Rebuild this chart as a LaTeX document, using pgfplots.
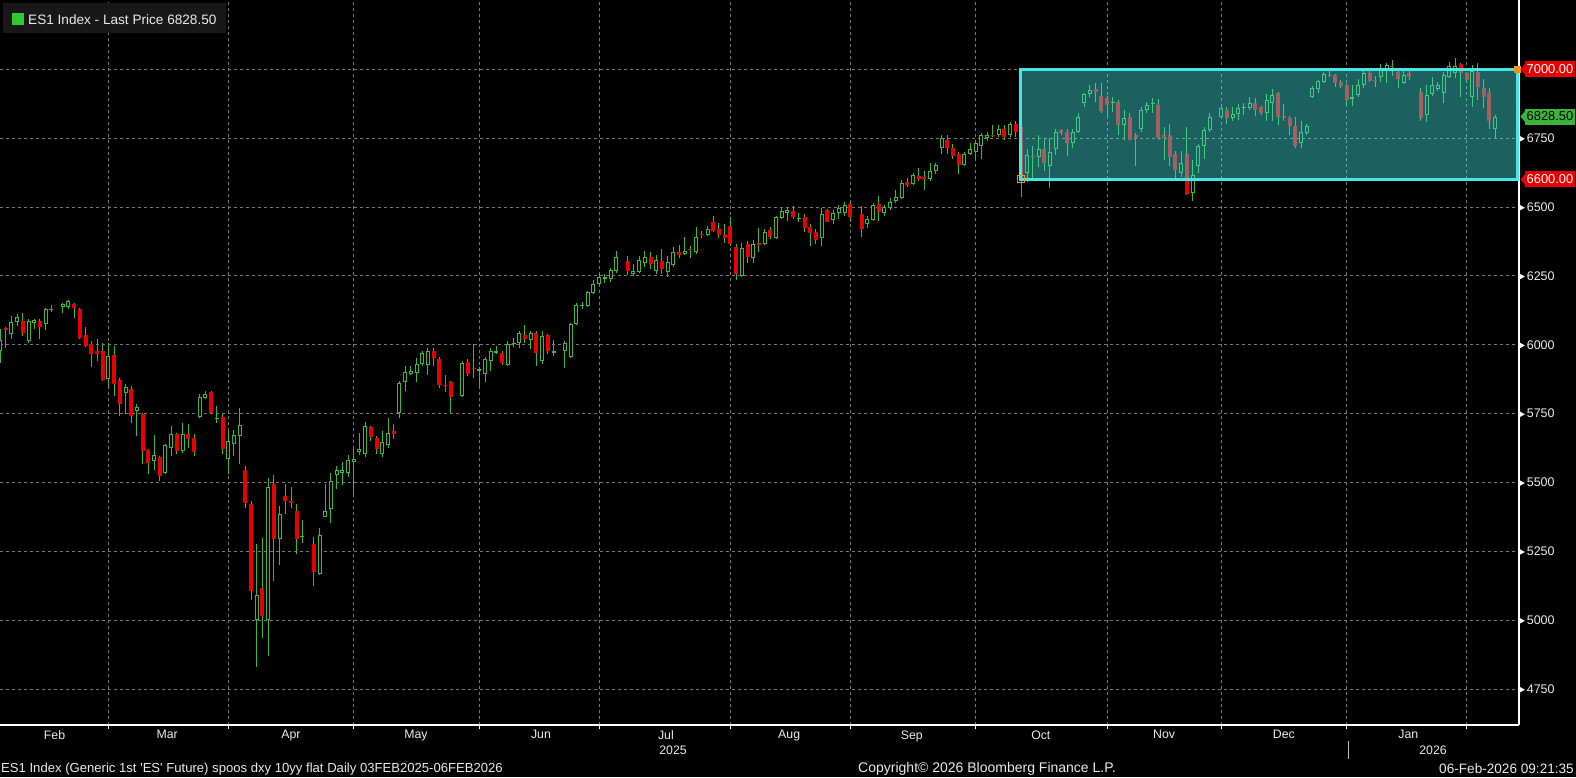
\documentclass[border=0pt]{standalone}
\usepackage{fontspec}
\setmainfont{Liberation Sans}
\usepackage{pgfplots}
\usepackage{pgfplotstable}
\pgfplotsset{compat=1.18}
\definecolor{cgreen}{RGB}{60,185,60}
\definecolor{cred}{RGB}{230,0,0}
\definecolor{boxcyan}{RGB}{70,230,230}
\definecolor{gridgray}{RGB}{120,120,120}
\definecolor{legbg}{RGB}{24,24,24}
\definecolor{lgreen}{RGB}{50,200,50}
\definecolor{lblgreen}{RGB}{60,180,60}
\definecolor{handle}{RGB}{230,150,30}
\definecolor{txt}{RGB}{235,235,235}
\newcommand{\ylab}[1]{\tikz[baseline=-0.55ex]{\fill[white] (0pt,-2.6pt)--(0pt,2.6pt)--(4.6pt,0pt)--cycle;}\hspace{2pt}#1}

\pgfplotstableread{
x o h l c
0 5977 6057 5933 6017
2 6039 6104 6021 6083
3 6083 6112 6068 6101
5 6013 6093 6006 6086
6 6079 6093 6057 6090
8 6075 6134 6053 6130
9 6125 6145 6119 6128
11 6137 6152 6115 6148
12 6137 6163 6130 6159
19 5875 6006 5842 5959
22 5824 5857 5748 5846
24 5758 5784 5667 5773
27 5577 5671 5547 5599
29 5533 5638 5529 5635
30 5624 5704 5595 5675
32 5613 5715 5606 5675
35 5737 5820 5733 5809
36 5806 5831 5802 5820
38 5731 5777 5715 5735
40 5584 5686 5529 5649
41 5638 5689 5595 5671
42 5667 5769 5566 5707
45 5001 5278 4830 5092
47 5001 5515 4870 5485
49 5293 5413 5201 5384
53 5303 5365 5281 5307
56 5169 5333 5165 5311
57 5376 5496 5373 5398
58 5405 5536 5351 5507
59 5526 5558 5478 5544
60 5536 5573 5489 5547
61 5536 5598 5518 5580
62 5576 5620 5449 5584
63 5609 5678 5598 5620
64 5602 5718 5591 5704
67 5602 5686 5591 5646
68 5635 5733 5624 5678
70 5751 5868 5733 5860
71 5864 5922 5831 5900
72 5893 5922 5890 5904
73 5897 5951 5864 5930
74 5930 5977 5922 5970
75 5926 5988 5890 5977
81 5813 5941 5810 5933
84 5904 5919 5846 5911
85 5893 5955 5864 5948
86 5941 5988 5904 5977
87 5970 5995 5966 5977
89 5926 6013 5922 6003
90 6003 6024 5992 6006
91 6006 6050 5988 6043
93 6017 6050 5984 6043
95 5941 6050 5930 6032
97 5970 6017 5959 5977
99 5977 6013 5915 6006
100 5955 6079 5951 6075
101 6075 6152 6070 6145
102 6141 6155 6130 6145
103 6141 6195 6137 6192
104 6188 6235 6184 6221
105 6221 6257 6217 6246
106 6240 6257 6224 6246
107 6239 6279 6228 6272
108 6268 6341 6261 6319
111 6257 6294 6250 6268
112 6265 6323 6261 6308
113 6297 6341 6283 6319
115 6268 6326 6257 6308
117 6265 6323 6246 6301
118 6290 6355 6283 6337
120 6330 6392 6326 6341
122 6337 6428 6330 6392
124 6399 6432 6396 6421
130 6250 6370 6246 6352
132 6315 6381 6297 6366
134 6366 6421 6362 6410
136 6388 6468 6385 6465
137 6461 6498 6457 6487
138 6479 6498 6450 6490
140 6458 6479 6447 6461
144 6388 6498 6359 6476
146 6454 6490 6439 6479
147 6479 6508 6457 6498
148 6479 6519 6468 6508
152 6439 6468 6425 6457
153 6454 6515 6450 6508
155 6479 6508 6468 6501
156 6497 6534 6490 6519
157 6523 6563 6516 6537
158 6534 6599 6530 6588
160 6585 6625 6581 6618
163 6600 6661 6596 6632
164 6632 6661 6621 6654
165 6713 6760 6694 6749
169 6654 6701 6650 6694
170 6694 6731 6690 6709
171 6701 6742 6676 6734
172 6720 6767 6676 6760
173 6749 6771 6738 6763
175 6760 6796 6756 6785
177 6760 6807 6753 6800
180 6625 6709 6592 6690
182 6680 6763 6647 6712
184 6650 6749 6570 6698
185 6712 6782 6690 6771
188 6731 6782 6716 6771
189 6771 6840 6767 6825
190 6876 6913 6862 6909
191 6909 6942 6898 6924
195 6876 6898 6844 6880
197 6796 6854 6742 6822
200 6785 6862 6771 6854
201 6854 6880 6840 6869
202 6874 6894 6843 6877
207 6625 6705 6610 6658
209 6552 6672 6523 6618
210 6650 6727 6625 6720
211 6720 6789 6676 6778
212 6778 6843 6771 6825
214 6825 6862 6822 6858
216 6822 6862 6811 6836
217 6836 6873 6815 6858
218 6860 6876 6833 6863
219 6858 6898 6851 6876
222 6840 6909 6814 6887
223 6876 6927 6814 6905
228 6731 6814 6716 6774
229 6767 6800 6760 6793
230 6898 6938 6894 6931
231 6927 6960 6913 6956
232 6953 6989 6949 6982
237 6893 6942 6866 6898
238 6905 6964 6898 6942
239 6942 6993 6931 6985
242 6971 7018 6953 6996
243 6996 7022 6949 7015
246 6949 7000 6945 6978
250 6833 6942 6807 6905
251 6909 6971 6902 6942
252 6927 6953 6920 6942
253 6913 6989 6876 6978
254 6971 7025 6967 7011
255 6985 7040 6967 7011
258 6898 7015 6862 6993
262 6782 6833 6749 6828.5
}\upc

\pgfplotstableread{
x o h l c
1 6062 6066 5988 6055
4 6086 6115 6032 6043
7 6086 6093 6021 6064
13 6148 6152 6097 6133
14 6130 6134 6021 6024
15 6035 6064 5990 5995
16 6003 6013 5919 5966
17 5977 6021 5941 5966
18 5977 6006 5868 5871
20 5962 5995 5813 5857
21 5871 5879 5740 5784
23 5839 5850 5715 5740
25 5748 5751 5566 5613
26 5617 5620 5529 5569
28 5591 5595 5507 5522
31 5675 5678 5602 5613
33 5675 5711 5624 5657
34 5660 5675 5595 5609
37 5828 5831 5748 5751
39 5737 5748 5602 5620
43 5547 5558 5409 5424
44 5420 5431 5074 5107
46 5118 5300 4936 5016
48 5493 5526 5143 5296
50 5449 5493 5387 5434
51 5431 5482 5409 5424
52 5398 5420 5241 5296
55 5278 5303 5125 5176
65 5700 5705 5649 5664
66 5660 5667 5602 5620
69 5686 5711 5657 5675
76 5977 5988 5922 5951
77 5948 5955 5842 5853
78 5855 5890 5828 5850
79 5864 5868 5751 5809
82 5937 5948 5886 5893
83 5917 6003 5879 5913
88 5970 5977 5926 5933
92 6035 6072 6006 6021
94 6043 6050 5922 5970
96 6035 6039 5966 5977
110 6305 6323 6254 6268
114 6319 6337 6276 6294
116 6305 6348 6257 6276
119 6337 6363 6315 6326
121 6348 6359 6315 6344
123 6401 6414 6388 6398
125 6446 6468 6410 6414
126 6421 6443 6388 6399
127 6399 6439 6370 6388
128 6432 6465 6359 6366
129 6355 6366 6235 6257
131 6366 6377 6297 6319
133 6368 6425 6337 6362
135 6418 6428 6385 6392
139 6487 6505 6457 6465
141 6465 6476 6410 6425
142 6428 6439 6359 6406
143 6410 6421 6366 6381
145 6490 6492 6446 6447
149 6512 6523 6447 6465
151 6476 6505 6392 6421
154 6512 6541 6450 6483
159 6592 6607 6574 6581
161 6614 6643 6596 6603
162 6610 6632 6563 6600
166 6745 6760 6694 6713
167 6716 6727 6676 6685
168 6694 6701 6621 6654
174 6762 6796 6753 6758
176 6785 6796 6745 6756
178 6800 6811 6756 6771
179 6790 6805 6538 6600
181 6687 6720 6600 6680
183 6712 6749 6632 6661
186 6778 6785 6760 6767
187 6774 6785 6687 6731
192 6927 6949 6880 6916
193 6902 6949 6840 6847
194 6894 6902 6829 6869
196 6880 6887 6760 6796
198 6825 6840 6742 6745
199 6760 6767 6650 6749
203 6869 6891 6745 6752
204 6760 6792 6669 6752
205 6760 6800 6650 6683
206 6694 6705 6596 6636
208 6694 6789 6545 6549
215 6851 6862 6800 6822
220 6876 6894 6829 6851
221 6862 6865 6833 6840
224 6913 6916 6796 6825
225 6829 6873 6814 6822
226 6822 6829 6760 6793
227 6793 6825 6716 6720
233 6978 6993 6971 6974
234 6978 6982 6935 6949
235 6953 6960 6931 6938
236 6942 6945 6869 6887
240 6985 6993 6953 6956
241 6962 6974 6935 6958
244 7011 7033 6975 7007
245 6989 6996 6931 6964
247 6985 7000 6960 6971
249 6916 6931 6814 6822
256 7018 7022 6898 6985
257 6985 6989 6951 6960
259 6989 7022 6887 6935
260 6931 6964 6858 6898
261 6913 6931 6782 6814
}\dnc

\pgfplotsset{
  nomark/.style={only marks, mark=*, mark size=0pt, mark options={draw=none, fill=none}},
}

\begin{document}
\begin{tikzpicture}
\useasboundingbox (0pt,-52pt) rectangle (1576pt,725pt);
\fill[black] (0pt,-52pt) rectangle (1576pt,725pt);
\begin{axis}[
  at={(0pt,0pt)}, anchor=south west,
  scale only axis, width=1519pt, height=725pt,
  xmin=0, xmax=266.2, ymin=4619.4, ymax=7251.6,
  axis x line*=bottom, axis y line*=right,
  axis line style={white, line width=1.6pt},
  xtick={9.55,29.3,51,72.9,94.8,116.7,138.3,159.8,182.4,204,225,246.8},
  xticklabels={Feb,Mar,Apr,May,Jun,Jul,Aug,Sep,Oct,Nov,Dec,Jan},
  minor xtick={19,40,62,84,105,128,149,171,194,214,236,257},
  major tick length=0pt, minor tick length=4pt, tick align=outside,
  minor tick style={draw=white, line width=1pt},
  xminorgrids=true, xmajorgrids=false, ymajorgrids=true,
  grid style={draw=gridgray, line width=1pt, dash pattern=on 3pt off 3pt},
  minor grid style={draw=gridgray, line width=1pt, dash pattern=on 3pt off 3pt},
  ytick={4750,5000,5250,5500,5750,6000,6250,6500,6750,7000},
  yticklabels={\ylab{4750},\ylab{5000},\ylab{5250},\ylab{5500},\ylab{5750},\ylab{6000},\ylab{6250},\ylab{6500},\ylab{6750},{}},
  xticklabel style={font=\fontsize{12.3}{14}\selectfont, text=txt, yshift=-2pt},
  yticklabel style={font=\fontsize{12.5}{14}\selectfont, text=txt, anchor=west, inner sep=0pt, xshift=1pt},
]
% wicks
\addplot[nomark, cgreen, error bars/.cd, y dir=plus, y explicit, error mark=none, error bar style={line width=1pt, cgreen}]
  table[x=x, y=l, y error plus expr={\thisrow{h}-\thisrow{l}}] {\upc};
\addplot[nomark, cgreen, error bars/.cd, y dir=plus, y explicit, error mark=none, error bar style={line width=1pt, cgreen}]
  table[x=x, y=l, y error plus expr={\thisrow{h}-\thisrow{l}}] {\dnc};
% down bodies
\addplot[nomark, cred, error bars/.cd, y dir=plus, y explicit, error mark=none, error bar style={line width=4pt, cred}]
  table[x=x, y=c, y error plus expr={max(\thisrow{o}-\thisrow{c},3.6)}] {\dnc};
% up bodies (hollow)
\addplot[nomark, cgreen, error bars/.cd, y dir=plus, y explicit, error mark=none, error bar style={line width=4pt, cgreen}]
  table[x=x, y=o, y error plus expr={max(\thisrow{c}-\thisrow{o},3.6)}] {\upc};
\addplot[nomark, black, error bars/.cd, y dir=plus, y explicit, error mark=none, error bar style={line width=2pt, black}]
  table[x=x, y expr={\thisrow{o}+3.63}, y error plus expr={max(\thisrow{c}-\thisrow{o}-7.26,0)}] {\upc};
% range box
\addplot[fill=boxcyan, fill opacity=0.42, draw=none] coordinates {(178.9,6600) (265.9,6600) (265.9,7000) (178.9,7000)} -- cycle;
\addplot[draw=boxcyan, line width=3pt, fill=none] coordinates {(178.9,6600) (265.9,6600) (265.9,7000) (178.9,7000)} -- cycle;
\addplot[only marks, mark=square*, mark size=3pt, color=handle] coordinates {(265.9,7000)};
\addplot[only marks, mark=square, mark size=3.5pt, mark options={draw=handle, line width=1pt}] coordinates {(178.9,6600)};
\coordinate (r7000) at (axis cs:266.2,7000);
\coordinate (rlast) at (axis cs:266.2,6828.5);
\coordinate (r6600) at (axis cs:266.2,6600);
\end{axis}
% right-side value labels
\fill[cred] ([xshift=1.5pt]r7000) -- ([xshift=6.5pt,yshift=6pt]r7000) -- ([xshift=6.5pt,yshift=-6pt]r7000) -- cycle;
\node[fill=cred, text=white, font=\fontsize{12.9}{15}\selectfont, inner xsep=1.5pt, inner ysep=0pt, minimum height=16pt, anchor=west] at ([xshift=6pt]r7000) {7000.00};
\fill[lblgreen] ([xshift=1.5pt]rlast) -- ([xshift=6.5pt,yshift=6pt]rlast) -- ([xshift=6.5pt,yshift=-6pt]rlast) -- cycle;
\node[fill=lblgreen, text=black, font=\fontsize{12.9}{15}\selectfont, inner xsep=1.5pt, inner ysep=0pt, minimum height=16pt, anchor=west] at ([xshift=6pt]rlast) {6828.50};
\fill[cred] ([xshift=1.5pt]r6600) -- ([xshift=6.5pt,yshift=6pt]r6600) -- ([xshift=6.5pt,yshift=-6pt]r6600) -- cycle;
\node[fill=cred, text=white, font=\fontsize{12.9}{15}\selectfont, inner xsep=1.5pt, inner ysep=0pt, minimum height=16pt, anchor=west] at ([xshift=6pt]r6600) {6600.00};
% legend
\fill[legbg] (3pt,692pt) rectangle (226pt,722pt);
\fill[lgreen] (12pt,700pt) rectangle (24pt,712pt);
\node[anchor=west, inner sep=0pt, text=txt, font=\fontsize{13.6}{16}\selectfont] at (28pt,705.5pt) {ES1 Index - Last Price 6828.50};
% years and footer
\node[text=txt, font=\fontsize{12.3}{14}\selectfont] at (673pt,-25pt) {2025};
\node[text=txt, font=\fontsize{12.3}{14}\selectfont] at (1433pt,-25pt) {2026};
\draw[white!75!black, line width=0.8pt] (1348pt,-16pt) -- (1348pt,-34pt);
\node[anchor=west, inner sep=0pt, text=txt, font=\fontsize{13.1}{15}\selectfont] at (1pt,-44pt) {ES1 Index (Generic 1st \textquotesingle ES\textquotesingle{} Future) spoos dxy 10yy flat Daily 03FEB2025-06FEB2026};
\node[inner sep=0pt, text=txt, font=\fontsize{14}{16}\selectfont] at (987pt,-44pt) {Copyright© 2026 Bloomberg Finance L.P.};
\node[anchor=east, inner sep=0pt, text=txt, font=\fontsize{13.6}{15}\selectfont] at (1574pt,-44pt) {06-Feb-2026 09:21:35};
\end{tikzpicture}
\end{document}
